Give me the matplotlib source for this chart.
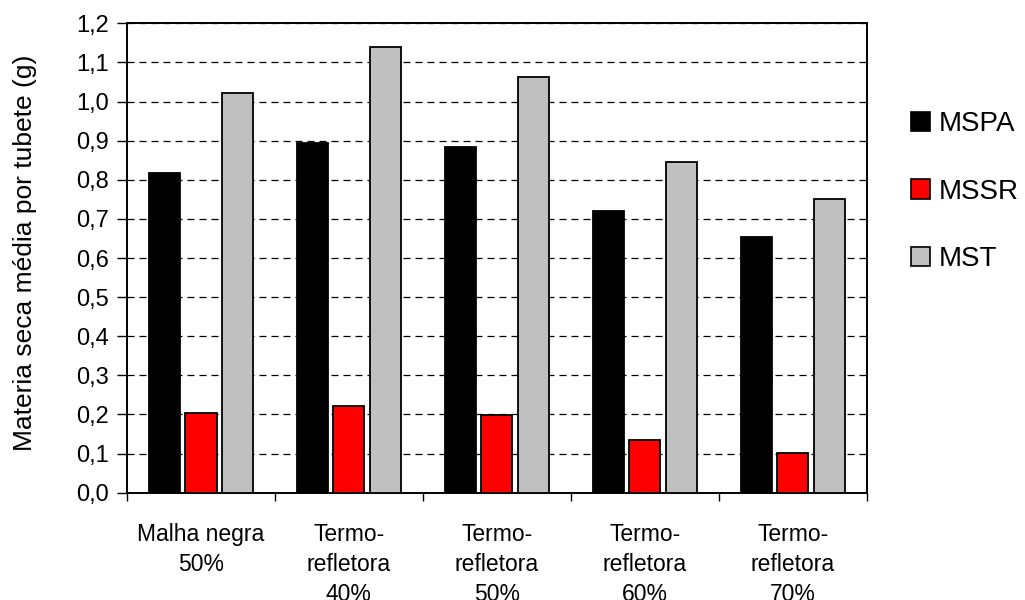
import matplotlib
matplotlib.use("Agg")
import matplotlib.pyplot as plt
import numpy as np
from matplotlib.patches import Patch

plt.rcParams['font.family'] = ['Liberation Sans', 'DejaVu Sans']

categories = ["Malha negra\n50%", "Termo-\nrefletora\n40%", "Termo-\nrefletora\n50%",
              "Termo-\nrefletora\n60%", "Termo-\nrefletora\n70%"]
mspa = [0.818, 0.895, 0.884, 0.721, 0.654]
mssr = [0.203, 0.222, 0.199, 0.136, 0.101]
mst = [1.021, 1.139, 1.063, 0.846, 0.750]

series = [("MSPA", mspa, "#000000"), ("MSSR", mssr, "#ff0000"), ("MST", mst, "#c0c0c0")]

fig = plt.figure(figsize=(10.25, 6), dpi=100)
ax = fig.add_axes([0.1239, 0.1788, 0.7217, 0.7824])

x = np.arange(len(categories))
width = 0.21
offset = 0.247
for i, (name, vals, col) in enumerate(series):
    ax.bar(x + (i - 1) * offset, vals, width, color=col, edgecolor="black",
           linewidth=1.3, label=name, zorder=3)

ax.set_xlim(-0.5, len(categories) - 0.5)
ax.set_ylim(0, 1.2)
yt = np.arange(0, 1.21, 0.1)
ax.set_yticks(yt)
ax.set_yticklabels([f"{v:.1f}".replace(".", ",") for v in yt], fontsize=17)
ax.yaxis.grid(True, linestyle=(0, (5.6, 4)), color="black", linewidth=0.9, zorder=0)

# category ticks sit between the groups, labels centred under each group
ax.set_xticks(np.arange(len(categories) + 1) - 0.5)
ax.set_xticklabels([])
ax.set_xticks(x, minor=True)
ax.set_xticklabels(categories, minor=True, fontsize=16.5, linespacing=1.38, va="top")
ax.tick_params(axis="x", which="minor", length=0, pad=22)
ax.tick_params(axis="x", which="major", direction="out", length=6, width=1)
ax.tick_params(axis="y", direction="out", length=7, width=1, pad=6)

for s in ax.spines.values():
    s.set_linewidth(1.4)
    s.set_color("black")

ax.set_ylabel("Materia seca média por tubete (g)", fontsize=19)
ax.yaxis.set_label_coords(-0.121, 0.51)

handles = [Patch(facecolor=c, edgecolor="black", linewidth=1.2) for _, _, c in series]
fig.legend(handles, [s[0] for s in series], loc="upper left", bbox_to_anchor=(0.875, 0.838),
           frameon=False, fontsize=20, handlelength=0.7, handleheight=0.7,
           handletextpad=0.3, labelspacing=1.5, borderpad=0)

fig.savefig("out.png", dpi=100)
